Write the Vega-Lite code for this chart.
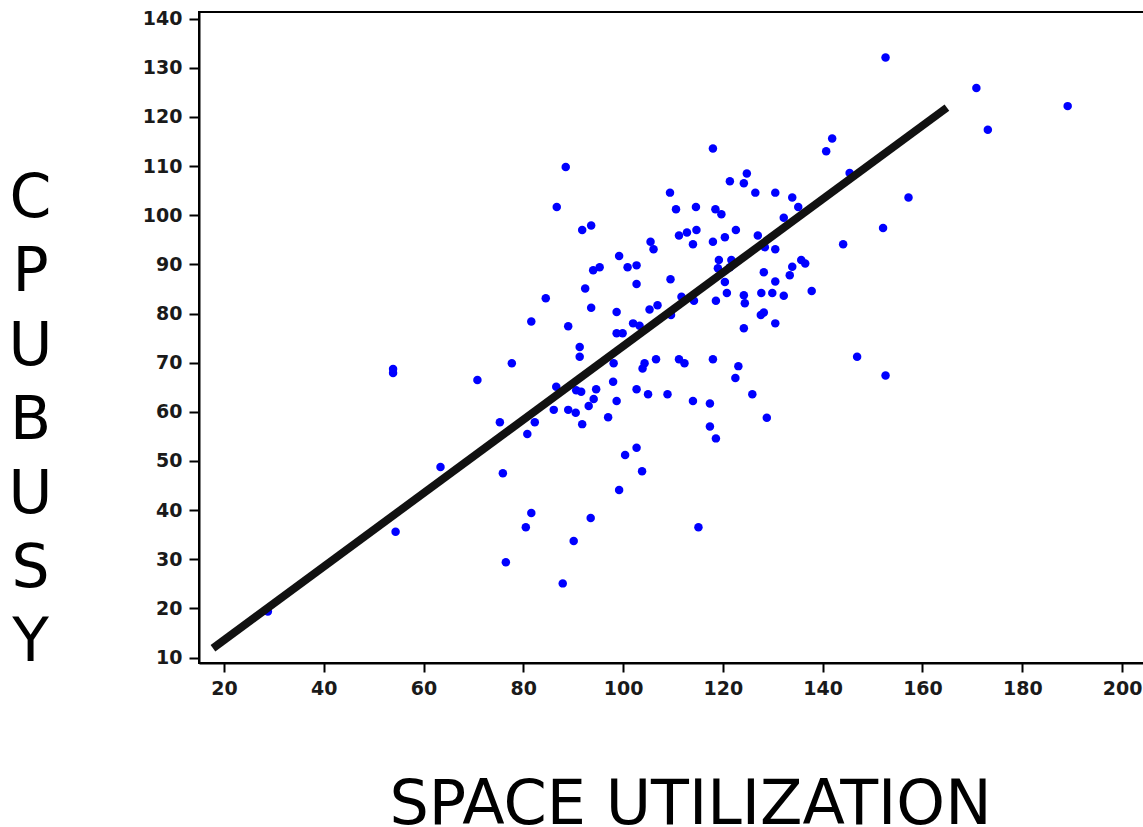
{
  "$schema": "https://vega.github.io/schema/vega-lite/v6.json",
  "width": 948,
  "height": 651,
  "autosize": {"type": "none"},
  "padding": {"left": 199, "top": 12, "right": 0, "bottom": 164},
  "background": "white",
  "config": {
    "view": {"stroke": "black", "strokeWidth": 2},
    "axis": {
      "grid": false,
      "domainColor": "black",
      "domainWidth": 2,
      "tickColor": "black",
      "tickWidth": 2,
      "labelFont": "DejaVu Sans",
      "labelFontWeight": "bold",
      "labelFontSize": 19,
      "labelColor": "#1a1a1a",
      "titleFont": "DejaVu Sans",
      "titleFontWeight": "normal",
      "titleColor": "black"
    }
  },
  "datasets": {
    "pts": [
      {"x": 28.8, "y": 19.4}, {"x": 53.9, "y": 68.7}, {"x": 53.9, "y": 67.9}, {"x": 54.4, "y": 35.6},
      {"x": 63.4, "y": 48.8}, {"x": 70.8, "y": 66.5}, {"x": 75.3, "y": 57.9}, {"x": 75.9, "y": 47.5},
      {"x": 76.5, "y": 29.4}, {"x": 77.7, "y": 69.9}, {"x": 80.8, "y": 55.5}, {"x": 80.5, "y": 36.5},
      {"x": 81.6, "y": 39.4}, {"x": 82.3, "y": 57.9}, {"x": 81.6, "y": 78.4}, {"x": 84.5, "y": 83.1},
      {"x": 86.1, "y": 60.4}, {"x": 86.6, "y": 65.1}, {"x": 86.7, "y": 101.7}, {"x": 88.5, "y": 109.8},
      {"x": 87.9, "y": 25.1}, {"x": 89.0, "y": 77.4}, {"x": 89.0, "y": 60.4}, {"x": 90.6, "y": 64.4},
      {"x": 90.5, "y": 59.8}, {"x": 91.6, "y": 64.1}, {"x": 91.3, "y": 73.2}, {"x": 91.3, "y": 71.2},
      {"x": 90.1, "y": 33.7}, {"x": 91.8, "y": 97.0}, {"x": 93.6, "y": 97.9}, {"x": 91.8, "y": 57.5},
      {"x": 92.4, "y": 85.1}, {"x": 93.6, "y": 81.2}, {"x": 93.1, "y": 61.2}, {"x": 94.1, "y": 62.6},
      {"x": 94.6, "y": 64.6}, {"x": 93.5, "y": 38.4}, {"x": 94.0, "y": 88.8}, {"x": 95.3, "y": 89.4},
      {"x": 97.0, "y": 58.9}, {"x": 98.0, "y": 66.1}, {"x": 98.1, "y": 69.9}, {"x": 98.7, "y": 80.3},
      {"x": 98.7, "y": 76.0}, {"x": 99.9, "y": 76.0}, {"x": 98.7, "y": 62.2}, {"x": 99.2, "y": 91.7},
      {"x": 99.2, "y": 44.1}, {"x": 100.4, "y": 51.2}, {"x": 100.9, "y": 89.4}, {"x": 102.7, "y": 89.8},
      {"x": 102.7, "y": 86.0}, {"x": 102.0, "y": 78.0}, {"x": 103.3, "y": 77.5}, {"x": 102.7, "y": 64.6},
      {"x": 102.7, "y": 52.7}, {"x": 103.8, "y": 47.9}, {"x": 103.9, "y": 68.8}, {"x": 104.3, "y": 69.9},
      {"x": 105.0, "y": 63.6}, {"x": 105.5, "y": 94.6}, {"x": 106.1, "y": 93.1}, {"x": 105.3, "y": 80.8},
      {"x": 106.9, "y": 81.7}, {"x": 106.6, "y": 70.7}, {"x": 108.9, "y": 63.6}, {"x": 109.4, "y": 104.6},
      {"x": 109.5, "y": 87.0}, {"x": 109.6, "y": 79.7}, {"x": 110.6, "y": 101.2}, {"x": 111.2, "y": 70.7},
      {"x": 112.3, "y": 69.9}, {"x": 111.2, "y": 95.9}, {"x": 112.8, "y": 96.5}, {"x": 111.7, "y": 83.4},
      {"x": 114.0, "y": 94.1}, {"x": 114.6, "y": 101.7}, {"x": 114.7, "y": 97.0}, {"x": 114.2, "y": 82.6},
      {"x": 114.0, "y": 62.2}, {"x": 115.1, "y": 36.5}, {"x": 118.0, "y": 113.6}, {"x": 118.0, "y": 94.6},
      {"x": 118.0, "y": 70.7}, {"x": 117.4, "y": 61.7}, {"x": 117.4, "y": 57.0}, {"x": 118.6, "y": 54.6},
      {"x": 118.5, "y": 101.2}, {"x": 119.7, "y": 100.2}, {"x": 118.6, "y": 82.6}, {"x": 119.2, "y": 90.9},
      {"x": 119.0, "y": 89.2}, {"x": 121.7, "y": 90.9}, {"x": 121.4, "y": 89.4}, {"x": 120.4, "y": 95.5},
      {"x": 120.4, "y": 86.4}, {"x": 120.8, "y": 84.2}, {"x": 121.4, "y": 106.9}, {"x": 122.6, "y": 97.0},
      {"x": 123.1, "y": 69.3}, {"x": 122.5, "y": 66.9}, {"x": 124.2, "y": 106.5}, {"x": 124.8, "y": 108.5},
      {"x": 124.2, "y": 83.7}, {"x": 124.4, "y": 82.1}, {"x": 124.2, "y": 77.0}, {"x": 125.9, "y": 63.6},
      {"x": 126.5, "y": 104.6}, {"x": 127.0, "y": 95.9}, {"x": 127.7, "y": 84.2}, {"x": 128.2, "y": 88.4},
      {"x": 128.4, "y": 93.5}, {"x": 128.2, "y": 80.2}, {"x": 127.6, "y": 79.7}, {"x": 128.8, "y": 58.8},
      {"x": 130.5, "y": 104.6}, {"x": 130.5, "y": 93.1}, {"x": 130.5, "y": 86.5}, {"x": 129.9, "y": 84.2},
      {"x": 130.5, "y": 78.0}, {"x": 132.2, "y": 99.5}, {"x": 132.2, "y": 83.6}, {"x": 133.9, "y": 103.6},
      {"x": 135.1, "y": 101.7}, {"x": 133.9, "y": 89.5}, {"x": 133.4, "y": 87.8}, {"x": 135.7, "y": 90.9},
      {"x": 136.5, "y": 90.2}, {"x": 137.8, "y": 84.6}, {"x": 140.7, "y": 113.0}, {"x": 141.9, "y": 115.6},
      {"x": 145.4, "y": 108.6}, {"x": 144.1, "y": 94.1}, {"x": 146.9, "y": 71.2}, {"x": 152.1, "y": 97.4},
      {"x": 152.6, "y": 132.1}, {"x": 152.6, "y": 67.4}, {"x": 157.2, "y": 103.6}, {"x": 170.8, "y": 125.9},
      {"x": 173.1, "y": 117.4}, {"x": 189.1, "y": 122.2}
    ],
    "fit": [
      {"x": 17.8, "y": 11.9},
      {"x": 164.9, "y": 121.9}
    ]
  },
  "layer": [
    {
      "data": {"name": "pts"},
      "mark": {"type": "circle", "color": "#0000ff", "opacity": 1, "size": 72},
      "encoding": {
        "x": {
          "field": "x", "type": "quantitative",
          "scale": {"domain": [15, 205], "nice": false, "zero": false},
          "axis": {
            "values": [20, 40, 60, 80, 100, 120, 140, 160, 180, 200],
            "tickSize": 9,
            "labelPadding": 7,
            "labelFlush": false,
            "title": "SPACE UTILIZATION",
            "titleFontSize": 62,
            "titleX": 491,
            "titleY": 160,
            "titleAlign": "center",
            "titleBaseline": "alphabetic",
            "titleAngle": 0
          }
        },
        "y": {
          "field": "y", "type": "quantitative",
          "scale": {"domain": [8.9, 141.35], "nice": false, "zero": false},
          "axis": {
            "values": [10, 20, 30, 40, 50, 60, 70, 80, 90, 100, 110, 120, 130, 140],
            "tickSize": 10,
            "labelPadding": 7,
            "labelFlush": false,
            "title": ["C", "P", "U", "B", "U", "S", "Y"],
            "titleFontSize": 60,
            "titleLineHeight": 74,
            "titleAngle": 0,
            "titleAlign": "center",
            "titleBaseline": "top",
            "titleX": -169,
            "titleY": 157
          }
        }
      }
    },
    {
      "data": {"name": "fit"},
      "mark": {"type": "line", "color": "#111111", "strokeWidth": 8, "strokeCap": "butt"},
      "encoding": {
        "x": {"field": "x", "type": "quantitative"},
        "y": {"field": "y", "type": "quantitative"}
      }
    }
  ]
}
